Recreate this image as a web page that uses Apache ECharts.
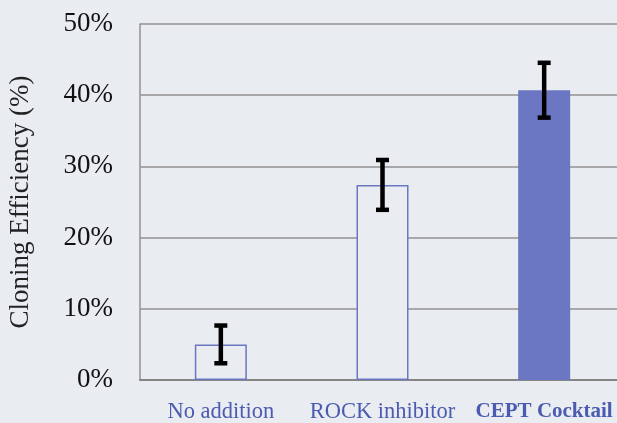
<!DOCTYPE html>
<html><head><meta charset="utf-8">
<script src="https://cdn.jsdelivr.net/npm/echarts@6/dist/echarts.min.js"></script>
<style>html,body{margin:0;padding:0;background:#e9ecf1;}#c{width:617px;height:423px;}</style>
</head><body><div id="c"></div>
<script>
const categories = ['No addition', 'ROCK inhibitor', 'CEPT Cocktail'];
const values = [5.0, 27.4, 40.7];
const errors = [2.65, 3.5, 3.85];
const yTicks = [0, 10, 20, 30, 40, 50];

const barColor = '#6b77c3';
const bg = '#e9ecf1';
const chart = echarts.init(document.getElementById('c'));
const font = 'Liberation Serif';
chart.setOption({
  backgroundColor: bg,
  animation: false,
  grid: { left: 140, top: 24, width: 485, height: 356, containLabel: false, outerBoundsMode: 'none' },
  xAxis: {
    type: 'category', data: categories,
    axisLine: { lineStyle: { color: '#858585', width: 2 } },
    axisTick: { show: false },
    axisLabel: {
      interval: 0, hideOverlap: false,
      margin: 21, fontFamily: font, fontSize: 22.5, color: '#4b5bb0',
      formatter: (v) => v === 'CEPT Cocktail' ? '{b|' + v + '}' : v,
      rich: { b: { fontFamily: font, fontSize: 21, fontWeight: 'bold', color: '#4b5bb0' } }
    }
  },
  yAxis: {
    type: 'value', min: yTicks[0], max: yTicks[yTicks.length - 1], interval: 10,
    name: 'Cloning Efficiency (%)', nameLocation: 'middle', nameGap: 106, nameRotate: 90,
    nameTextStyle: { fontFamily: font, fontSize: 27, color: '#222' },
    axisLine: { show: true, lineStyle: { color: '#929292', width: 1.5 } },
    axisTick: { show: false },
    splitLine: { lineStyle: { color: '#929292', width: 1.5 } },
    axisLabel: { margin: 27, align: 'right', fontFamily: font, fontSize: 27, color: '#111',
      formatter: (v) => v + '%' }
  },
  series: [
    {
      type: 'bar', barWidth: 52,
      data: values.map((v, i) => ({
        value: v,
        itemStyle: i < 2 ? { color: bg, borderColor: barColor, borderWidth: 1.5 } : { color: barColor }
      })),
      z: 2
    },
    {
      type: 'custom', z: 5,
      renderItem: function (params, api) {
        const i = api.value(0);
        const v = api.value(1), e = api.value(2);
        const top = api.coord([i, v + e]);
        const bot = api.coord([i, v - e]);
        const cap = 6.5;
        const st = { stroke: '#000', lineWidth: 4.5 };
        return { type: 'group', children: [
          { type: 'line', shape: { x1: top[0], y1: top[1], x2: bot[0], y2: bot[1] }, style: st },
          { type: 'line', shape: { x1: top[0] - cap, y1: top[1], x2: top[0] + cap, y2: top[1] }, style: st },
          { type: 'line', shape: { x1: bot[0] - cap, y1: bot[1], x2: bot[0] + cap, y2: bot[1] }, style: st }
        ]};
      },
      data: values.map((v, i) => [i, v, errors[i]])
    }
  ]
});
</script></body></html>
